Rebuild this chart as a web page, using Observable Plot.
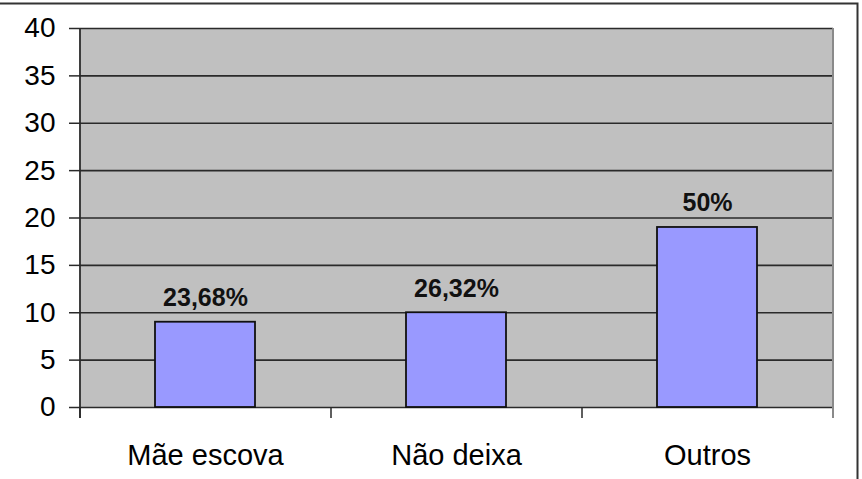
<!DOCTYPE html>
<html>
<head>
<meta charset="utf-8">
<script src="https://cdn.jsdelivr.net/npm/d3@7"></script>
<script src="https://cdn.jsdelivr.net/npm/@observablehq/plot@0.6"></script>
<style>
  html, body { margin: 0; padding: 0; background: #fff; }
  #chart svg { display: block; }
</style>
</head>
<body>
<div id="chart"></div>
<script>
const categories = ["Mãe escova", "Não deixa", "Outros"];
const values = [9, 10, 19];
const valueLabels = ["23,68%", "26,32%", "50%"];
const yTicks = [0, 5, 10, 15, 20, 25, 30, 35, 40];

const data = categories.map((c, i) => ({category: c, value: values[i], label: valueLabels[i]}));

const W = 862, H = 479;
const mL = 80, mR = 29, mT = 28, mB = 72;
const step = (W - mL - mR) / categories.length;
const plotH = H - mT - mB;

const chart = Plot.plot({
  width: W,
  height: H,
  marginLeft: mL,
  marginRight: mR,
  marginTop: mT,
  marginBottom: mB,
  style: {fontFamily: "'Liberation Sans', Arial, sans-serif", fontSize: "28px", color: "#000", background: "#fff"},
  x: {domain: categories, paddingInner: 0.6, paddingOuter: 0.3, label: null},
  y: {domain: [0, 40], label: null},
  marks: [
    Plot.frame({fill: "#c0c0c0", stroke: null}),
    Plot.ruleY(yTicks, {stroke: "#2a2a2a", strokeWidth: 1.6}),
    Plot.ruleX([categories[categories.length - 1]], {dx: step / 2, stroke: "#8a8a8a", strokeWidth: 2, insetBottom: -11}),
    Plot.ruleX(categories, {dx: -step / 2, stroke: "#2a2a2a", strokeWidth: 1.5, insetTop: plotH, insetBottom: -11}),
    Plot.ruleX([categories[0]], {dx: -step / 2, stroke: "#2a2a2a", strokeWidth: 1.8, insetBottom: -11}),
    Plot.barY(data, {x: "category", y: "value", fill: "#9999ff", stroke: "#111", strokeWidth: 1.8}),
    Plot.text(data, {x: "category", y: "value", text: "label", dy: -24, fontSize: 25, fontWeight: "bold", fill: "#111"}),
    Plot.axisY({ticks: yTicks, tickSize: 11, tickPadding: 14, fontSize: 28, stroke: "#2a2a2a", strokeWidth: 1.5, label: null}),
    Plot.axisX({tickSize: 0, tickPadding: 37, fontSize: 29, label: null}),
    Plot.frame({fill: "none", stroke: "#333", strokeWidth: 2, insetTop: -25, insetRight: -24, insetLeft: -300, insetBottom: -300})
  ]
});
document.getElementById("chart").appendChild(chart);
</script>
</body>
</html>
